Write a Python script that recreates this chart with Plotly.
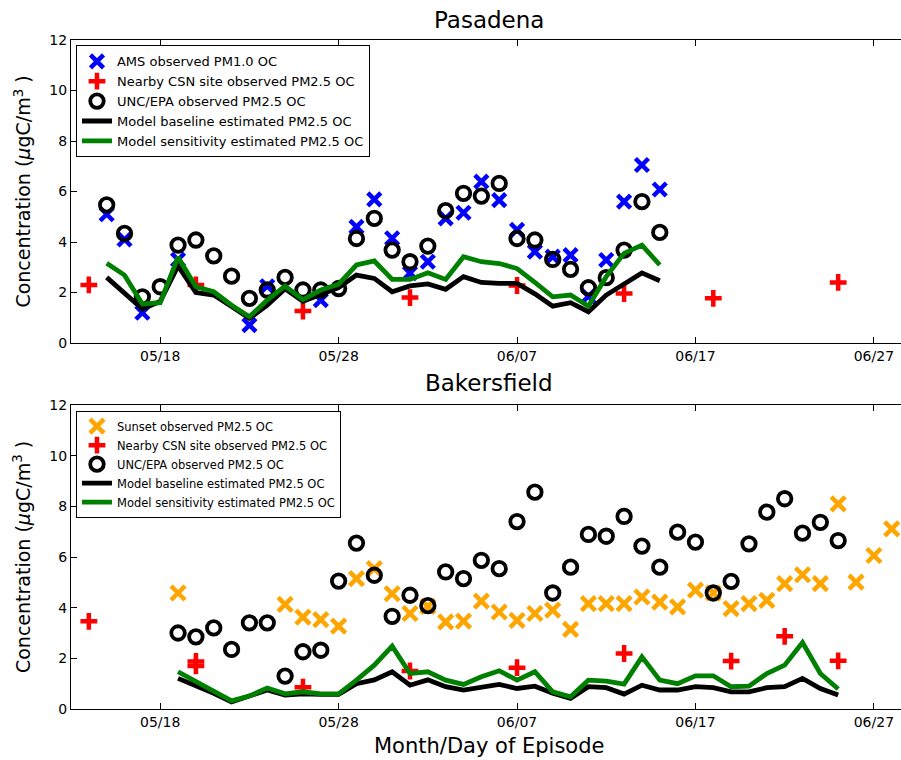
import pandas as pd
import plotly.graph_objects as go

# ---------------- Pasadena data ----------------
pas_model_dates = pd.date_range("2010-05-15", "2010-06-15", freq="D")
pas_baseline = [2.6, 2.0, 1.35, 1.65, 3.05, 2.0, 1.9, 1.45, 0.98, 1.5, 2.15, 1.65, 1.95, 2.2,
                2.69, 2.56, 2.03, 2.26, 2.34, 2.13, 2.63, 2.4, 2.36, 2.36, 1.95, 1.46, 1.6,
                1.24, 1.9, 2.36, 2.78, 2.47]
pas_sensitivity = [3.16, 2.69, 1.55, 1.6, 3.4, 2.23, 2.03, 1.5, 1.04, 1.7, 2.26, 1.72, 2.1, 2.33,
                   3.09, 3.25, 2.52, 2.52, 2.78, 2.52, 3.42, 3.22, 3.15, 2.95, 2.4, 1.83, 1.9,
                   1.46, 2.63, 3.55, 3.88, 3.09]

pas_ams_dates = ["2010-05-15", "2010-05-16", "2010-05-17", "2010-05-19", "2010-05-23", "2010-05-24",
                 "2010-05-27", "2010-05-29", "2010-05-30", "2010-05-31", "2010-06-01", "2010-06-02",
                 "2010-06-03", "2010-06-04", "2010-06-05", "2010-06-06", "2010-06-07", "2010-06-08",
                 "2010-06-09", "2010-06-10", "2010-06-11", "2010-06-12", "2010-06-13", "2010-06-14",
                 "2010-06-15"]
pas_ams = [5.1, 4.1, 1.2, 3.3, 0.71, 2.25, 1.7, 4.6, 5.69, 4.15, 2.77, 3.22, 4.94, 5.16, 6.39,
           5.66, 4.48, 3.62, 3.42, 3.48, 1.85, 3.29, 5.6, 7.05, 6.08]

pas_csn_dates = ["2010-05-14", "2010-05-20", "2010-05-26", "2010-06-01", "2010-06-07", "2010-06-13",
                 "2010-06-18", "2010-06-25"]
pas_csn = [2.3, 2.3, 1.27, 1.8, 2.28, 1.96, 1.77, 2.4]

pas_unc_dates = pd.date_range("2010-05-15", "2010-06-15", freq="D")
pas_unc = [5.47, 4.34, 1.83, 2.23, 3.88, 4.08, 3.45, 2.65, 1.77, 2.1, 2.6, 2.1, 2.1, 2.16,
           4.14, 4.94, 3.68, 3.22, 3.84, 5.24, 5.93, 5.82, 6.32, 4.14, 4.08, 3.31, 2.92, 2.19,
           2.59, 3.68, 5.6, 4.38]

# ---------------- Bakersfield data ----------------
bak_model_dates = pd.date_range("2010-05-19", "2010-06-25", freq="D")
bak_baseline = [1.21, 0.92, 0.62, 0.28, 0.5, 0.75, 0.55, 0.6, 0.58, 0.58, 1.0, 1.15, 1.47, 0.94,
                1.15, 0.88, 0.75, 0.84, 0.97, 0.81, 0.9, 0.62, 0.42, 0.88, 0.84, 0.59, 0.94, 0.75,
                0.75, 0.88, 0.84, 0.68, 0.68, 0.84, 0.88, 1.21, 0.81, 0.55]
bak_sensitivity = [1.47, 1.07, 0.68, 0.32, 0.51, 0.83, 0.6, 0.68, 0.6, 0.6, 1.14, 1.73, 2.48, 1.4,
                   1.47, 1.14, 0.97, 1.27, 1.51, 1.14, 1.47, 0.68, 0.48, 1.14, 1.1, 0.98, 2.06, 1.14,
                   1.0, 1.31, 1.31, 0.88, 0.9, 1.4, 1.73, 2.62, 1.4, 0.79]

bak_sunset_dates = ["2010-05-19"] + [d.strftime("%Y-%m-%d") for d in pd.date_range("2010-05-25", "2010-06-28", freq="D")]
bak_sunset = [4.58, 4.13, 3.63, 3.53, 3.27, 5.15, 5.54, 4.55, 3.77, 4.05, 3.44, 3.47, 4.26, 3.83,
              3.5, 3.77, 3.9, 3.14, 4.16, 4.16, 4.16, 4.42, 4.22, 4.03, 4.69, 4.58, 3.96, 4.16,
              4.29, 4.95, 5.3, 4.95, 8.1, 5.01, 6.06, 7.11]

bak_csn_dates = ["2010-05-14", "2010-05-20", "2010-05-20", "2010-05-26", "2010-06-01", "2010-06-07",
                 "2010-06-13", "2010-06-19", "2010-06-22", "2010-06-25"]
bak_csn = [3.46, 1.88, 1.7, 0.86, 1.5, 1.63, 2.19, 1.89, 2.87, 1.9]

bak_unc_dates = pd.date_range("2010-05-19", "2010-06-25", freq="D")
bak_unc = [3.0, 2.85, 3.2, 2.35, 3.4, 3.4, 1.3, 2.26, 2.32, 5.05, 6.55, 5.28, 3.66, 4.49, 4.08,
           5.41, 5.15, 5.87, 5.54, 7.4, 8.56, 4.58, 5.6, 6.89, 6.82, 7.6, 6.43, 5.6, 6.98, 6.59,
           4.58, 5.04, 6.52, 7.77, 8.3, 6.94, 7.37, 6.65]

FONT = "DejaVu Sans"
fig = go.Figure()


def add_panel(xa, ya, leg, first_label, first_color, first_x, first_y, csn_x, csn_y,
              unc_x, unc_y, mdates, base, sens, xsize):
    fig.add_trace(go.Scatter(x=first_x, y=first_y, mode="markers", name=first_label,
                             xaxis=xa, yaxis=ya, legend=leg,
                             marker=dict(symbol="x-thin", size=xsize, color=first_color,
                                         line=dict(color=first_color, width=4.5))))
    fig.add_trace(go.Scatter(x=csn_x, y=csn_y, mode="markers", name="Nearby CSN site observed PM2.5 OC",
                             xaxis=xa, yaxis=ya, legend=leg,
                             marker=dict(symbol="cross-thin", size=12, color="#ff0000",
                                         line=dict(color="#ff0000", width=4.5))))
    fig.add_trace(go.Scatter(x=unc_x, y=unc_y, mode="markers", name="UNC/EPA observed PM2.5 OC",
                             xaxis=xa, yaxis=ya, legend=leg,
                             marker=dict(symbol="circle-open", size=13.5, color="black",
                                         line=dict(color="black", width=3.8))))
    fig.add_trace(go.Scatter(x=mdates, y=base, mode="lines", name="Model baseline estimated PM2.5 OC",
                             xaxis=xa, yaxis=ya, legend=leg,
                             line=dict(color="black", width=4.8)))
    fig.add_trace(go.Scatter(x=mdates, y=sens, mode="lines", name="Model sensitivity estimated PM2.5 OC",
                             xaxis=xa, yaxis=ya, legend=leg,
                             line=dict(color="#008000", width=4.8)))


add_panel("x", "y", "legend", "AMS observed PM1.0 OC", "#0000ff", pas_ams_dates, pas_ams,
          pas_csn_dates, pas_csn, pas_unc_dates, pas_unc, pas_model_dates, pas_baseline,
          pas_sensitivity, 13)
add_panel("x2", "y2", "legend2", "Sunset observed PM2.5 OC", "#ffa500", bak_sunset_dates, bak_sunset,
          bak_csn_dates, bak_csn, bak_unc_dates, bak_unc, bak_model_dates, bak_baseline,
          bak_sensitivity, 14)

xrange = ["2010-05-13 00:00", "2010-06-28 12:30"]
xcommon = dict(range=xrange, tickformat="%m/%d", tick0="2010-05-18", dtick=864000000,
               ticks="inside", ticklen=6, tickwidth=1, tickcolor="black",
               showline=True, linecolor="black", linewidth=1.2, mirror="allticks",
               showgrid=False, zeroline=False,
               tickfont=dict(family=FONT, size=14, color="black"))
ycommon = dict(range=[0, 12], dtick=2, ticks="inside", ticklen=6, tickwidth=1, tickcolor="black",
               showline=True, linecolor="black", linewidth=1.2, showgrid=False, zeroline=False,
               tickfont=dict(family=FONT, size=14, color="black"))

legcommon = dict(bgcolor="white", bordercolor="black", borderwidth=1, xanchor="left", yanchor="top",
                 itemwidth=30, traceorder="normal")

fig.update_layout(
    width=901, height=760,
    margin=dict(l=71, r=0, t=40, b=51),
    paper_bgcolor="white", plot_bgcolor="white",
    font=dict(family=FONT, color="black"),
    xaxis=dict(domain=[0, 1], anchor="y", **xcommon),
    yaxis=dict(domain=[0.547, 1.0], anchor="x", **ycommon),
    xaxis2=dict(domain=[0, 1], anchor="y2", **xcommon),
    yaxis2=dict(domain=[0, 0.4544], anchor="x2", **ycommon),
    legend=dict(x=0.006, y=0.992, font=dict(family=FONT, size=13, color="black"), **legcommon),
    legend2=dict(x=0.006, y=0.446, font=dict(family=FONT, size=11.5, color="black"), **legcommon),
    showlegend=True,
    annotations=[
        dict(text="Pasadena", x=0.504, y=1.03, xref="paper", yref="paper", showarrow=False,
             xanchor="center", yanchor="middle", font=dict(family=FONT, size=23, color="black")),
        dict(text="Bakersfield", x=0.504, y=0.487, xref="paper", yref="paper", showarrow=False,
             xanchor="center", yanchor="middle", font=dict(family=FONT, size=23, color="black")),
        dict(text="Concentration (<i>μ</i>gC/m<sup>3</sup> )", x=-0.059, y=0.7735, xref="paper",
             yref="paper", showarrow=False, textangle=-90, xanchor="center", yanchor="middle",
             font=dict(family=FONT, size=19, color="black")),
        dict(text="Concentration (<i>μ</i>gC/m<sup>3</sup> )", x=-0.059, y=0.2272, xref="paper",
             yref="paper", showarrow=False, textangle=-90, xanchor="center", yanchor="middle",
             font=dict(family=FONT, size=19, color="black")),
        dict(text="Month/Day of Episode", x=0.504, y=-0.0553, xref="paper", yref="paper",
             showarrow=False, xanchor="center", yanchor="middle",
             font=dict(family=FONT, size=21, color="black")),
    ],
)

fig.write_html("out.html")
